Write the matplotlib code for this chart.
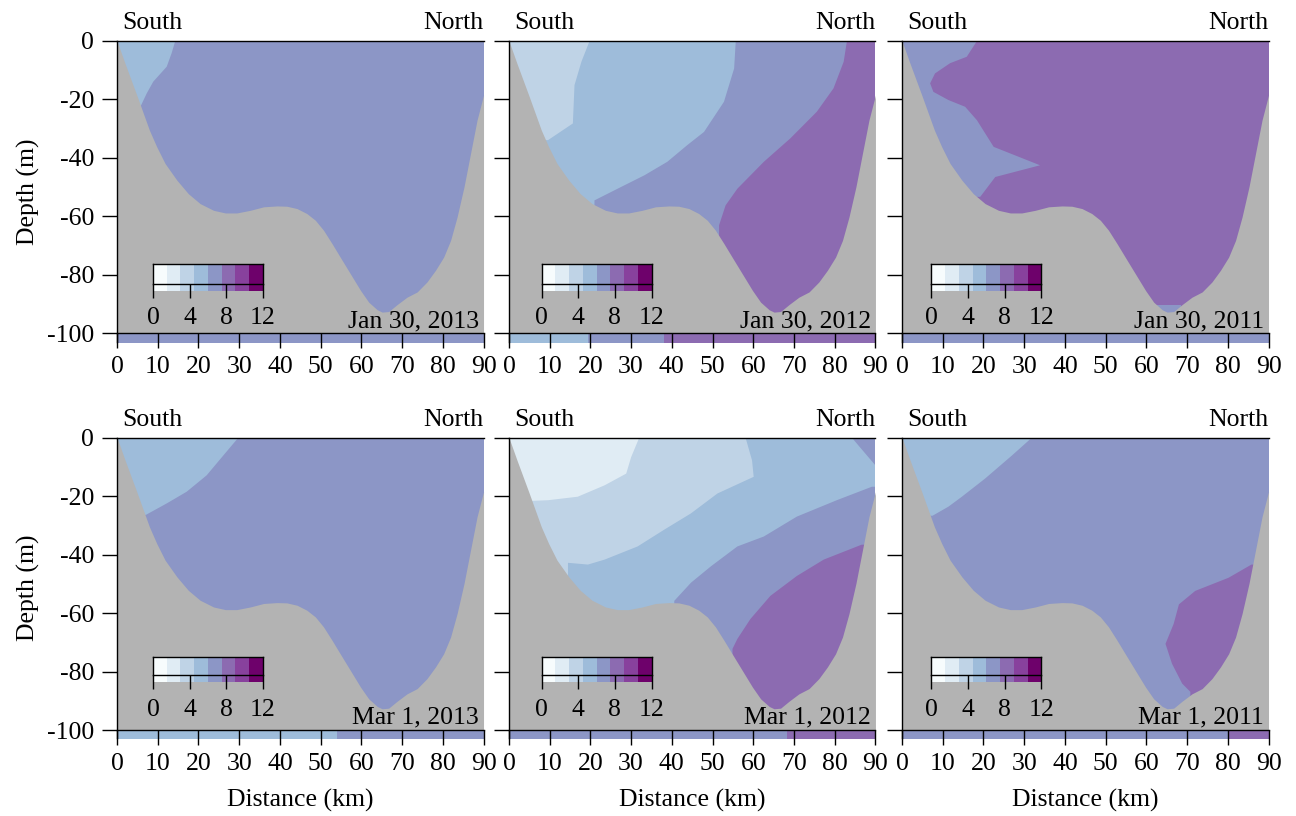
import numpy as np
import matplotlib
matplotlib.use("Agg")
import matplotlib.pyplot as plt
from matplotlib.colors import ListedColormap

plt.rcParams["font.family"] = ["Liberation Serif", "DejaVu Serif"]
plt.rcParams["font.size"] = 18.5
plt.rcParams["axes.unicode_minus"] = False

# BuPu, 8 classes of 1.5 from 0 to 12
level_colors = ["#f7fcfd", "#e0ecf4", "#bfd3e6", "#9ebcda",
                "#8c96c6", "#8c6bb1", "#88419d", "#6e016b"]
level_edges = np.linspace(0, 12, 9)
cbar_ticks = [0, 4, 8, 12]
land_color = "#b3b3b3"

# along-section bottom profile: distance (km), depth (m)
bathy_x = [0, 1.97, 5.0, 7.95, 9.75, 11.8, 14.7, 17.5, 20.4, 23.7, 26.6, 29.4,
           32.7, 36.0, 39.3, 41.7, 44.2, 46.6, 48.7, 50.7, 52.8, 54.8, 57.3,
           59.8, 61.8, 63.9, 65.1, 66.7, 68.8, 71.2, 73.7, 76.1, 78.2, 80.2,
           81.9, 83.5, 85.2, 86.8, 88.4, 90]
bathy_z = [0, -7.7, -19.1, -30.5, -36.2, -41.9, -47.6, -52.2, -55.6, -57.9,
           -58.8, -58.8, -57.9, -56.7, -56.4, -56.5, -57.3, -59.0, -61.3, -64.7,
           -69.3, -73.9, -79.6, -85.3, -89.3, -91.9, -92.7, -92.5, -90.1, -87.6,
           -85.8, -82.4, -78.4, -73.9, -68.2, -60.2, -49.9, -38.5, -27.1, -18.5]

dates = ["Jan 30, 2013", "Jan 30, 2012", "Jan 30, 2011",
         "Mar 1, 2013", "Mar 1, 2012", "Mar 1, 2011"]
base_level = [4, 3, 5, 4, 2, 4]

# class boundaries: (level, side, [(km, m), ...])
regions_jan13 = [
    (3, "left", [(14.3, 0), (13.4, -4.2), (12.2, -8.8), (8.9, -13.9),
                 (7.3, -17.9), (5.8, -22.3)]),
]
regions_jan12 = [
    (2, "left", [(19.8, 0), (17.8, -7.1), (16.1, -15.1), (15.7, -28.2),
                 (9.6, -33.9)]),
    (4, "right", [(55.7, 0), (55.3, -9.4), (52.8, -20.8), (47.9, -31.1),
                  (43.8, -35.6), (38.9, -41.3), (33.3, -45.9), (26.7, -50.5),
                  (21.0, -54.5)]),
    (5, "right", [(83.0, 0), (82.2, -7.1), (79.7, -16.2), (75.6, -24.2),
                  (69.1, -33.3), (62.6, -41.3), (56.1, -50.5), (53.2, -56.2),
                  (51.6, -63.0)]),
]
regions_jan11 = [
    (4, "left", [(18.4, 0), (15.9, -5.4), (11.8, -7.6), (8.1, -11.1),
                 (6.9, -14.5), (7.7, -17.4), (11.4, -20.2), (15.5, -22.5),
                 (18.4, -27.1), (22.5, -36.2), (33.9, -42.5), (22.9, -46.5),
                 (19.2, -53.3)]),
    (4, "below", [(61.0, -90.3), (68.5, -90.3)]),
]
regions_mar13 = [
    (3, "left", [(29.8, 0), (26.1, -6.1), (22.0, -12.9), (17.1, -18.5),
                 (12.2, -22.5), (7.1, -26.4)]),
]
regions_mar12 = [
    (1, "left", [(32.0, 0), (30.0, -6.7), (28.8, -12.3), (23.5, -16.3),
                 (16.9, -20.2), (9.6, -21.4), (5.9, -21.6)]),
    (3, "right", [(58.1, 0), (59.7, -7.8), (60.1, -13.4), (51.2, -19.1),
                  (44.7, -25.9), (38.1, -31.5), (31.6, -37.2), (23.5, -41.7),
                  (19.4, -43.4), (14.5, -42.8)]),
    (4, "right", [(84.2, 0), (86.2, -3.3), (90, -9.5)]),
    (4, "right", [(89.1, -16.8), (80.5, -21.4), (70.7, -27.0), (62.6, -33.8),
                  (56.1, -37.2), (49.6, -44.0), (44.7, -49.6), (40.6, -55.8)]),
    (5, "right", [(86.6, -36.6), (77.3, -41.7), (70.7, -47.3), (64.2, -54.1),
                  (59.3, -62.0), (56.1, -68.8), (54.9, -72.2)]),
]
regions_mar11 = [
    (3, "left", [(31.9, 0), (27.0, -6.1), (20.4, -14.0), (14.7, -20.2),
                 (11.4, -23.6), (7.5, -26.7)]),
    (5, "right", [(85.8, -43.4), (80.2, -47.9), (72.0, -52.4), (68.0, -57.0),
                  (66.7, -63.7), (64.7, -70.5), (66.3, -77.3), (68.8, -84.1),
                  (70.8, -86.9)]),
]
regions = [regions_jan13, regions_jan12, regions_jan11,
           regions_mar13, regions_mar12, regions_mar11]

# classes seen below the -100 m line: (from km, to km, level)
strips = [
    [(0, 90, 4)],
    [(0, 19.4, 3), (19.4, 38.0, 4), (38.0, 90, 5)],
    [(0, 90, 4)],
    [(0, 54.0, 3), (54.0, 90, 4)],
    [(0, 68.3, 4), (68.3, 90, 5)],
    [(0, 80.2, 4), (80.2, 90, 5)],
]

x_ticks = np.arange(0, 91, 10)
y_ticks = np.arange(0, -101, -20)
z_bottom = -102.8


def region_polygon(side, pts):
    x0, z0 = pts[0]
    x1, z1 = pts[-1]
    pts = list(pts)
    if side == "left":
        return [(0, 0)] + pts + [(0, z1)]
    if side == "right":
        return pts + [(x1, -100), (90, -100), (90, z0)]
    return pts + [(x1, -100), (x0, -100)]


fig = plt.figure(figsize=(12.96, 8.16), dpi=100)
col_left = [0.0903, 0.3927, 0.6960]
row_bottom = [0.5813, 0.0952]
width, height = 0.2828, 0.3685
cbar_left = [0.098, 0.089, 0.080]
cbar_box = [(0.193, 0.064), (0.210, 0.059)]
cmap = ListedColormap(level_colors)

for i in range(6):
    row, col = divmod(i, 3)
    ax = fig.add_axes([col_left[col], row_bottom[row], width, height])

    ax.axhspan(-100, 0, color=level_colors[base_level[i]], lw=0, zorder=0)
    for level, side, pts in regions[i]:
        poly = plt.Polygon(region_polygon(side, pts), closed=True,
                           facecolor=level_colors[level], edgecolor="none", zorder=1)
        ax.add_patch(poly)
    for xa, xb, level in strips[i]:
        ax.fill_between([xa, xb], -100, z_bottom - 1, color=level_colors[level],
                        lw=0, zorder=1)

    ax.fill_between(bathy_x, bathy_z, -100, color=land_color, lw=0, zorder=2)

    ax.set_xlim(0, 90)
    ax.set_ylim(z_bottom, 0)
    ax.spines["bottom"].set_position(("data", -100))
    ax.spines["right"].set_visible(False)
    for s in ("left", "top", "bottom"):
        ax.spines[s].set_linewidth(1.0)
        ax.spines[s].set_zorder(5)
    ax.set_xticks(x_ticks)
    ax.set_yticks(y_ticks)
    ax.tick_params(direction="out", length=10.5, width=1.0, labelsize=18.5)
    ax.tick_params(axis="x", pad=6)
    ax.tick_params(axis="y", pad=6)
    if col == 0:
        ax.set_ylabel("Depth (m)", fontsize=18.5, labelpad=5)
    else:
        ax.set_yticklabels([])
    if row == 1:
        ax.set_xlabel("Distance (km)", fontsize=18.5, labelpad=10)

    ax.text(0.014, 1.04, "South", transform=ax.transAxes, ha="left",
            va="baseline", fontsize=18.5)
    ax.text(1.0, 1.04, "North", transform=ax.transAxes, ha="right",
            va="baseline", fontsize=18.5)
    ax.text(0.987, 0.048, dates[i], transform=ax.transAxes, ha="right",
            va="baseline", fontsize=18.5, zorder=6)

    # colour key
    cb_y, cb_h = cbar_box[row]
    cax = ax.inset_axes([cbar_left[col], cb_y, 0.30, cb_h])
    mesh = cax.pcolormesh(level_edges, [-0.37, 1.0],
                          np.arange(8).reshape(1, 8), cmap=cmap,
                          vmin=-0.5, vmax=7.5)
    mesh.set_clip_on(False)
    cax.set_xlim(0, 12)
    cax.set_ylim(0, 1)
    cax.set_yticks([])
    cax.set_xticks(cbar_ticks)
    cax.tick_params(axis="x", direction="out", length=10, width=1.0,
                    labelsize=18.5, pad=7)
    for s in cax.spines.values():
        s.set_linewidth(1.0)

fig.savefig("out.png", dpi=100)
